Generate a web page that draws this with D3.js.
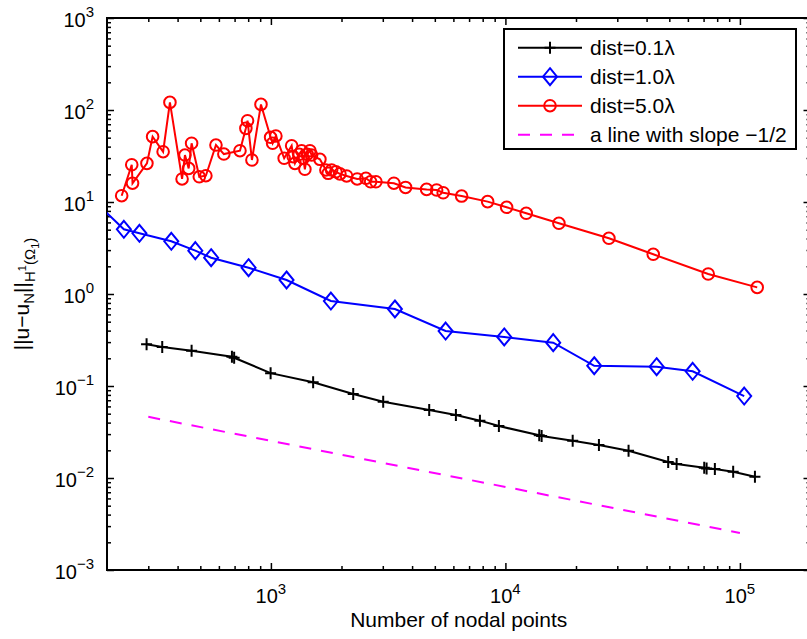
<!DOCTYPE html>
<html>
<head>
<meta charset="utf-8">
<script src="https://cdn.jsdelivr.net/npm/d3@7"></script>
<style>
  body { margin: 0; background: #fff; }
  svg { font-family: "Liberation Sans", Arial, sans-serif; }
</style>
</head>
<body>
<div id="chart"></div>
<script>
// dist = 0.1 lambda
var nodes01 = [295, 344, 459, 682, 697, 997, 1514, 2244, 3012, 4732, 6150, 7786, 9380, 13940, 14270,
  19360, 25050, 33510, 49450, 53720, 70450, 72100, 78200, 93600, 115900];
var err01 = [0.284, 0.265, 0.242, 0.208, 0.203, 0.138, 0.110, 0.0819, 0.0675, 0.0548, 0.0484, 0.0420, 0.0367, 0.0291, 0.0286,
  0.0254, 0.0229, 0.0198, 0.0149, 0.0142, 0.0129, 0.0127, 0.0125, 0.0117, 0.0103];

// dist = 1.0 lambda (first point sits left of the axis limit and is clipped)
var nodes10 = [150, 236, 275, 376, 476, 556, 803, 1166, 1802, 3379, 5559, 9885, 15990, 23920, 44140, 62870, 104300];
var err10 = [15.2, 5.05, 4.57, 3.74, 2.96, 2.48, 1.93, 1.42, 0.839, 0.687, 0.396, 0.341, 0.296, 0.166, 0.162, 0.1445, 0.0778];

// dist = 5.0 lambda
var nodes50 = [231, 255, 257, 296, 313, 347, 371, 418, 430, 446, 459, 495, 528, 583, 630, 738, 782, 795, 830, 907,
  997, 1017, 1050, 1139, 1226, 1245, 1266, 1320, 1352, 1373, 1396, 1428, 1467, 1491, 1618, 1716, 1755, 1815, 1893, 1969,
  2103, 2333, 2542, 2662, 2804, 3345, 3752, 4613, 5089, 5428, 6504, 8399, 10120, 12270, 16910, 27630, 42700, 73260, 118500];
var err50 = [11.7, 25.4, 16.0, 26.3, 51.3, 35.2, 121, 17.8, 32.4, 23.2, 43.5, 18.8, 19.3, 41.6, 33.2, 36.1, 63.2, 76.5, 28.6, 115,
  50.5, 43.5, 52.2, 29.9, 40.9, 31.1, 26.3, 33.0, 36.1, 29.9, 22.7, 33.0, 36.1, 32.4, 29.1, 22.3, 20.5, 22.3, 21.3, 20.2,
  19.2, 17.8, 18.1, 16.6, 16.6, 16.0, 14.4, 13.7, 13.5, 12.6, 11.6, 10.1, 8.76, 7.54, 5.87, 4.03, 2.70, 1.65, 1.18];

// reference line, slope -1/2
var nodesRef = [300, 100000];
var errRef = [0.0462, 0.00253];

var xTickExps = [3, 4, 5];
var yTickExps = [-3, -2, -1, 0, 1, 2, 3];
var legendLabels = ["dist=0.1\u03bb", "dist=1.0\u03bb", "dist=5.0\u03bb", "a line with slope \u22121/2"];

var width = 807, height = 639;
// plot box (right edge falls just outside the canvas, as in the original)
var pLeft = 107, pTop = 18, pRight = 810.5, pBottom = 570;

var svg = d3.select('#chart').append('svg')
  .attr('width', width)
  .attr('height', height);

var x = d3.scaleLog().domain([200, 2e5]).range([pLeft, pRight]);
var y = d3.scaleLog().domain([1e-3, 1e3]).range([pBottom, pTop]);

svg.append('defs').append('clipPath').attr('id', 'plotclip')
  .append('rect')
  .attr('x', pLeft).attr('y', pTop)
  .attr('width', pRight - pLeft).attr('height', pBottom - pTop);

// minor tick values
function minors(scale, lo, hi) {
  var out = [];
  var d = scale.domain();
  for (var e = lo; e <= hi; e++) {
    for (var m = 2; m <= 9; m++) {
      var v = m * Math.pow(10, e);
      if (v > d[0] && v < d[1]) out.push(v);
    }
  }
  return out;
}
var xMinor = minors(x, 2, 5);
var yMinor = minors(y, -3, 2);
var xMajor = xTickExps.map(function(e) { return Math.pow(10, e); });
var yMajor = yTickExps.map(function(e) { return Math.pow(10, e); });

function addAxis(gen, scale, vals, size, tx, ty) {
  var g = svg.append('g')
    .attr('transform', 'translate(' + tx + ',' + ty + ')')
    .call(gen(scale).tickValues(vals).tickSize(-size).tickSizeOuter(0).tickFormat(''));
  g.select('.domain').remove();
  g.selectAll('line').attr('stroke', '#000').attr('stroke-width', 1.5);
}

addAxis(d3.axisBottom, x, xMajor, 7, 0, pBottom);
addAxis(d3.axisBottom, x, xMinor, 4, 0, pBottom);
addAxis(d3.axisTop, x, xMajor, 7, 0, pTop);
addAxis(d3.axisTop, x, xMinor, 4, 0, pTop);
addAxis(d3.axisLeft, y, yMajor, 7, pLeft, 0);
addAxis(d3.axisLeft, y, yMinor, 4, pLeft, 0);
addAxis(d3.axisRight, y, yMajor, 7, pRight, 0);
addAxis(d3.axisRight, y, yMinor, 4, pRight, 0);

// axes box
svg.append('rect')
  .attr('x', pLeft).attr('y', pTop)
  .attr('width', pRight - pLeft).attr('height', pBottom - pTop)
  .attr('fill', 'none')
  .attr('stroke', '#000')
  .attr('stroke-width', 2);

// tick labels, 10 with superscript exponent
function expText(e) {
  return e < 0 ? '\u2212' + Math.abs(e) : '' + e;
}

var xLabels = svg.append('g').selectAll('text').data(xTickExps).enter()
  .append('text')
  .attr('x', function(d) { return x(Math.pow(10, d)); })
  .attr('y', 603)
  .attr('text-anchor', 'middle')
  .style('font-size', '20px');
xLabels.append('tspan').text('10');
xLabels.append('tspan').attr('dy', -9.5).style('font-size', '15px').text(function(d) { return expText(d); });

var yLabels = svg.append('g').selectAll('text').data(yTickExps).enter()
  .append('text')
  .attr('x', 94)
  .attr('y', function(d) { return y(Math.pow(10, d)) + 8.5; })
  .attr('text-anchor', 'end')
  .style('font-size', '20px');
yLabels.append('tspan').text('10');
yLabels.append('tspan').attr('dy', -9.5).style('font-size', '15px').text(function(d) { return expText(d); });

// axis titles
svg.append('text')
  .attr('x', (pLeft + pRight) / 2)
  .attr('y', 627)
  .attr('text-anchor', 'middle')
  .style('font-size', '21px')
  .text('Number of nodal points');

var yTitle = svg.append('text')
  .attr('transform', 'translate(29,' + ((pTop + pBottom) / 2) + ') rotate(-90)')
  .attr('text-anchor', 'middle')
  .style('font-size', '21px');
yTitle.append('tspan').text('||u\u2212u');
yTitle.append('tspan').attr('dy', 5).style('font-size', '15px').text('N');
yTitle.append('tspan').attr('dy', -5).text('||');
yTitle.append('tspan').attr('dy', 6).style('font-size', '15px').text('H');
yTitle.append('tspan').attr('dy', -9).style('font-size', '11px').text('1');
yTitle.append('tspan').attr('dy', 9).style('font-size', '15px').text('(\u03a9');
yTitle.append('tspan').attr('dy', 4).style('font-size', '11px').text('1');
yTitle.append('tspan').attr('dy', -4).style('font-size', '15px').text(')');

// series
var series = [
  { n: nodes01, v: err01, color: '#000000', marker: 'plus', dash: null },
  { n: nodes10, v: err10, color: '#0000ff', marker: 'diamond', dash: null },
  { n: nodes50, v: err50, color: '#ff0000', marker: 'circle', dash: null },
  { n: nodesRef, v: errRef, color: '#ff00ff', marker: null, dash: '12,10' }
];

var line = d3.line()
  .x(function(d) { return x(d[0]); })
  .y(function(d) { return y(d[1]); });

function drawMarker(g, type, color) {
  if (type === 'plus') {
    g.append('path').attr('d', 'M-5.5,0H5.5M0,-6V6')
      .attr('stroke', color).attr('stroke-width', 2).attr('fill', 'none');
  } else if (type === 'diamond') {
    g.append('path').attr('d', 'M0,-8.5L7,0L0,8.5L-7,0Z')
      .attr('stroke', color).attr('stroke-width', 2).attr('fill', 'none');
  } else if (type === 'circle') {
    g.append('circle').attr('r', 5.8)
      .attr('stroke', color).attr('stroke-width', 2).attr('fill', 'none');
  }
}

var plot = svg.append('g').attr('clip-path', 'url(#plotclip)');

series.forEach(function(s) {
  var pts = s.n.map(function(n, i) { return [n, s.v[i]]; });
  plot.append('path')
    .datum(pts)
    .attr('d', line)
    .attr('fill', 'none')
    .attr('stroke', s.color)
    .attr('stroke-width', 2)
    .attr('stroke-dasharray', s.dash);
  if (s.marker) {
    pts.forEach(function(p) {
      var g = plot.append('g').attr('transform', 'translate(' + x(p[0]) + ',' + y(p[1]) + ')');
      drawMarker(g, s.marker, s.color);
    });
  }
});

// legend
var legend = svg.append('g');
legend.append('rect')
  .attr('x', 504).attr('y', 29)
  .attr('width', 292).attr('height', 120)
  .attr('fill', '#fff')
  .attr('stroke', '#000')
  .attr('stroke-width', 2);

series.forEach(function(s, i) {
  var cy = 47.7 + i * 29;
  legend.append('line')
    .attr('x1', 518).attr('x2', 582)
    .attr('y1', cy).attr('y2', cy)
    .attr('stroke', s.color)
    .attr('stroke-width', 2)
    .attr('stroke-dasharray', s.dash);
  if (s.marker) {
    drawMarker(legend.append('g').attr('transform', 'translate(550,' + cy + ')'), s.marker, s.color);
  }
  legend.append('text')
    .attr('x', 590).attr('y', cy + 7.5)
    .style('font-size', '21px')
    .text(legendLabels[i]);
});
</script>
</body>
</html>
